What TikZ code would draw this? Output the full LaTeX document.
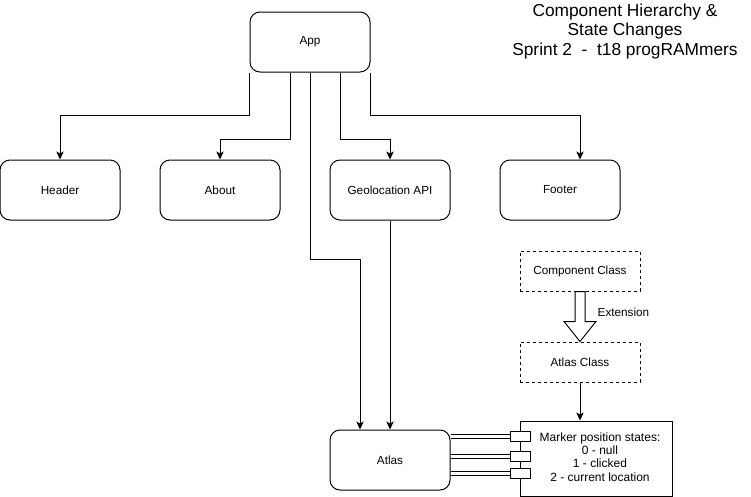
\documentclass[tikz,border=0pt]{standalone}
\usepackage{fontspec}
\setmainfont{Liberation Sans}
\usetikzlibrary{arrows.meta,calc}
\begin{document}
\begin{tikzpicture}[x=0.75pt,y=-0.75pt,
  every node/.style={font=\fontsize{8.8}{10}\selectfont},
  comp/.style={draw=black,line width=0.75pt,rounded corners=7.5pt,fill=white,
    minimum width=90pt,minimum height=45pt,inner sep=0pt},
  cls/.style={draw=black,line width=0.75pt,dash pattern=on 2.25pt off 2.25pt,fill=white,
    minimum width=90pt,minimum height=30pt,inner sep=0pt},
  port/.style={draw=black,line width=0.75pt,fill=white,minimum width=15pt,minimum height=7.5pt,inner sep=0pt},
  arr/.style={draw=black,line width=0.75pt,-{Stealth[length=6pt,width=5.5pt,inset=1.5pt]}},
  link/.style={draw=black,line width=0.75pt,double=white,double distance=2.25pt}
]
\useasboundingbox (0,0) rectangle (751,497);

% title
\node[align=center,font=\fontsize{13}{14.6}\selectfont] (title) at (625,31.5)
  {Component Hierarchy \&\\State Changes\\Sprint 2\ \ -\ \ t18 progRAMmers};

% components
\node[comp] (app) at (310,42) {App};
\node[comp] (header) at (60,190) {Header};
\node[comp] (about) at (220,190) {About};
\node[comp] (geo) at (390,190) {Geolocation API};
\node[comp] (footer) at (560,190) {Footer};
\node[comp] (atlas) at (390,460) {Atlas};

% classes
\node[cls] (cc) at (580,271) {Component Class};
\node[cls] (ac) at (580,362) {Atlas Class};

% marker states
\node[draw=black,line width=0.75pt,fill=white,minimum width=114pt,minimum height=56.25pt,
  inner sep=0pt] (marker) at (596,458.5) {};
\node[align=center,inner sep=0pt,font=\fontsize{9}{10}\selectfont] (markertext)
  at ($(marker.center)+(4,-1.5)$)
  {Marker position states:\\0 - null\\1 - clicked\\2 - current location};

% connectors from App
\draw[arr] (app.south west) |- ($(header.north)+(0,-44)$) -- (header.north);
\draw[arr] ($(app.south)+(-20,0)$) |- ($(about.north)+(0,-20)$) -- (about.north);
\draw[arr] (app.south) |- ($(atlas.north)+(-30,-170)$) -- ($(atlas.north)+(-30,0)$);
\draw[arr] ($(app.south)+(30,0)$) |- ($(geo.north)+(0,-20)$) -- (geo.north);
\draw[arr] (app.south east) |- ($(footer.north)+(20,-44)$) -- ($(footer.north)+(20,0)$);
\draw[arr] (geo.south) -- (atlas.north);
\draw[arr] (ac.south) -- (ac.south |- marker.north);

% extension block arrow
\draw[line width=0.75pt,fill=white,line join=miter]
  ($(cc.south)+(-5,0)$) -- ($(cc.south)+(5,0)$) -- ($(cc.south)+(5,30)$)
  -- ($(cc.south)+(16,30)$) -- (ac.north) -- ($(cc.south)+(-16,30)$)
  -- ($(cc.south)+(-5,30)$) -- cycle;
\node[anchor=west] (ext) at (593,312) {Extension};

% ports and links
\node[port] (p1) at (520,436) {};
\node[port] (p2) at (520,456.5) {};
\node[port] (p3) at (520,473.5) {};
\draw[link] (atlas.east |- p1.west) -- (p1.west);
\draw[link] (atlas.east |- p2.west) -- (p2.west);
\draw[link] (atlas.east |- p3.west) -- (p3.west);
\end{tikzpicture}
\end{document}
